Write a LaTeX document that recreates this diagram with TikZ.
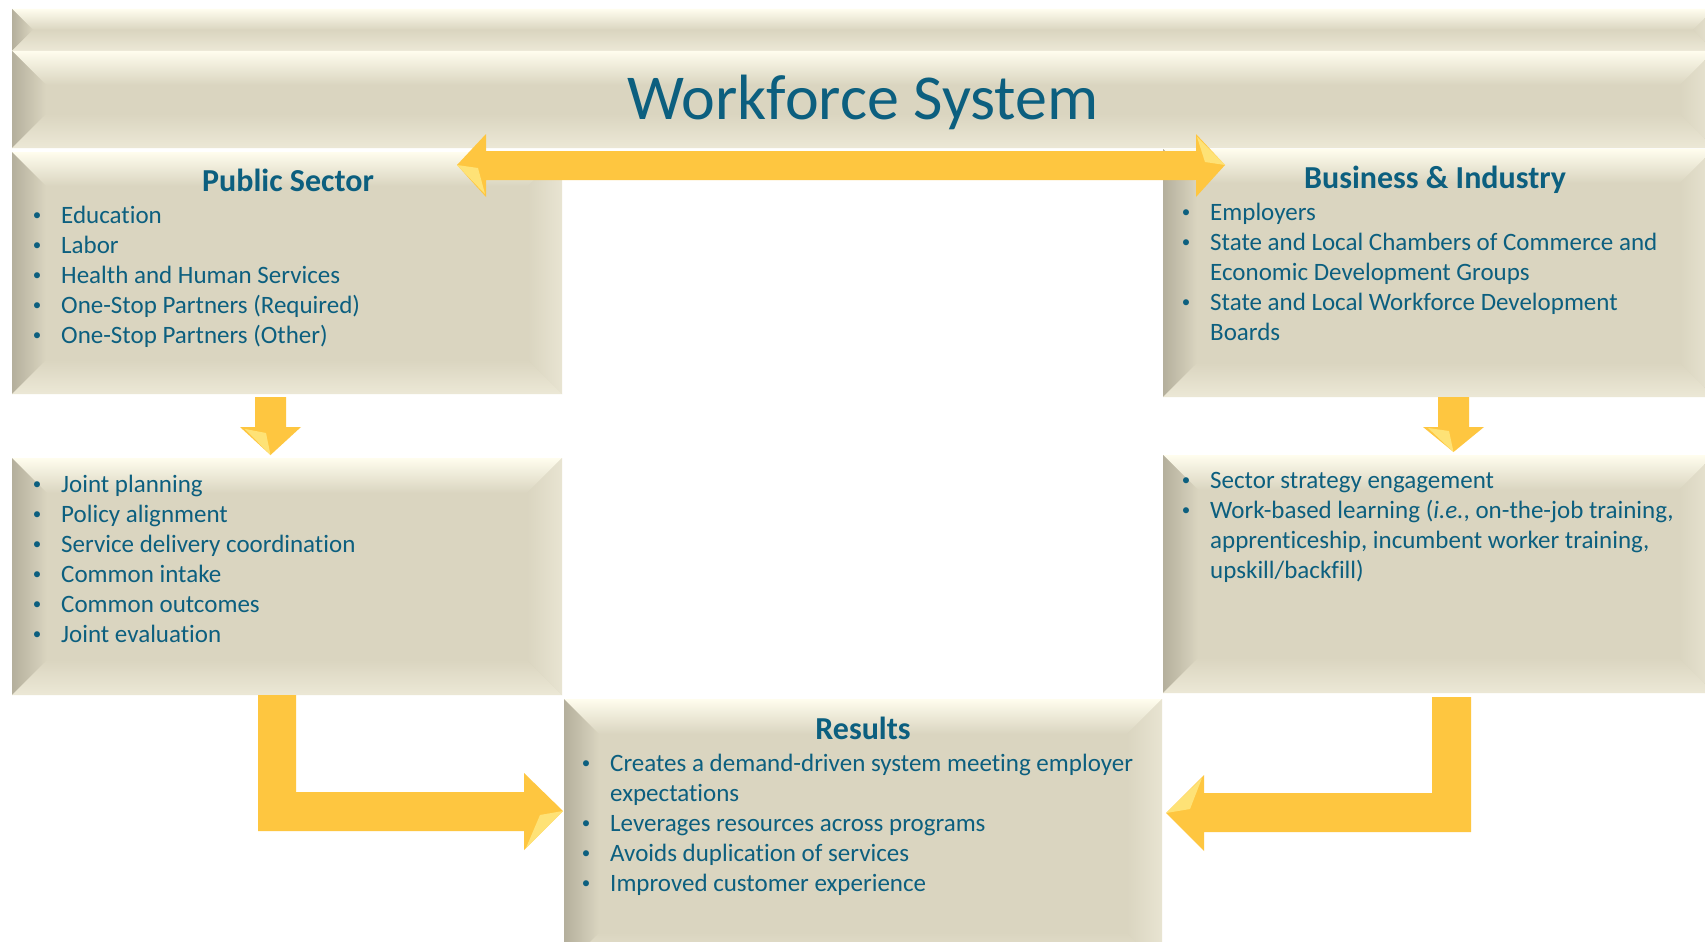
\documentclass[tikz,border=0pt]{standalone}
\usepackage{fontspec}
\setmainfont[Ligatures=NoCommon]{Carlito}
\definecolor{boxc}{RGB}{218,213,192}
\definecolor{bevtop}{RGB}{255,253,238}
\definecolor{bevleft}{RGB}{180,175,156}
\definecolor{bevright}{RGB}{232,228,210}
\definecolor{bevbot}{RGB}{236,232,214}
\definecolor{txt}{RGB}{12,95,127}
\definecolor{arrowc}{RGB}{254,198,64}
\definecolor{arrowhi}{RGB}{255,232,128}
\newcommand\bul{\makebox[30pt][l]{\makebox[12pt]{\raisebox{2.5pt}{\fontsize{17}{17}\selectfont •}}}}
\newcommand\bevelbox[6]{%
 \node[boxnode, minimum width={(#4-#2)*1pt}, minimum height={(#5-#3)*1pt}] (#1) at ({(#2+#4)/2},{(#3+#5)/2}) {};
 \shade[top color=bevtop, bottom color=boxc] (#2,#3) -- (#4,#3) -- ({#4-#6},{#3+#6}) -- ({#2+#6},{#3+#6}) -- cycle;
 \shade[left color=bevleft, right color=boxc] (#2,#3) -- ({#2+#6},{#3+#6}) -- ({#2+#6},{#5-#6}) -- (#2,#5) -- cycle;
 \shade[left color=boxc, right color=bevright] (#4,#3) -- ({#4-#6},{#3+#6}) -- ({#4-#6},{#5-#6}) -- (#4,#5) -- cycle;
 \shade[top color=boxc, bottom color=bevbot] (#2,#5) -- ({#2+#6},{#5-#6}) -- ({#4-#6},{#5-#6}) -- (#4,#5) -- cycle;
}
\tikzset{
 boxnode/.style={fill=boxc, draw=none, inner sep=0pt, outer sep=0pt},
 body/.style={text=txt, inner sep=0pt, anchor=base west, font=\fontsize{25}{30}\selectfont},
 head/.style={text=txt, inner sep=0pt, anchor=base, font=\fontsize{32}{38}\selectfont\bfseries},
 blockarrow/.style={fill=arrowc, draw=none},
 facet/.style={fill=arrowhi, draw=none, opacity=0.85},
}
\begin{document}
\begin{tikzpicture}[x=1pt, y=-1pt]
\useasboundingbox (0,0) rectangle (1705,942);
\clip (0,0) rectangle (1705,942);
\fill[white] (0,0) rectangle (1705,942);

% boxes
\bevelbox{topband}{12}{9}{1714}{51}{21}
\bevelbox{banner}{12}{51}{1714}{148}{34}
\bevelbox{ps}{12}{152}{562}{394}{34}
\bevelbox{bi}{1163}{149}{1714}{397}{34}
\bevelbox{psc}{12}{458}{562}{695}{35}
\bevelbox{bic}{1163}{455}{1714}{693}{35}
\bevelbox{res}{564}{699}{1162}{968}{35}

% texts
\node[text=txt, inner sep=0pt, anchor=base, font=\fontsize{64}{76}\selectfont] (title) at (863,119) {Workforce System};

\node[head] (pshead) at (288,191) {Public Sector};
\node[body] (pslist) at (31,223) {\begin{tabular}[t]{@{}l@{}l@{}}
\bul & Education\\
\bul & Labor\\
\bul & Health and Human Services\\
\bul & One-Stop Partners (Required)\\
\bul & One-Stop Partners (Other)
\end{tabular}};

\node[head] (bihead) at (1435,188) {Business \& Industry};
\node[body] (bilist) at (1180,220) {\begin{tabular}[t]{@{}l@{}l@{}}
\bul & Employers\\
\bul & State and Local Chambers of Commerce and\\
 & Economic Development Groups\\
\bul & State and Local Workforce Development\\
 & Boards
\end{tabular}};

\node[body] (psclist) at (31,492) {\begin{tabular}[t]{@{}l@{}l@{}}
\bul & Joint planning\\
\bul & Policy alignment\\
\bul & Service delivery coordination\\
\bul & Common intake\\
\bul & Common outcomes\\
\bul & Joint evaluation
\end{tabular}};

\node[body] (biclist) at (1180,488) {\begin{tabular}[t]{@{}l@{}l@{}}
\bul & Sector strategy engagement\\
\bul & Work-based learning (\textit{i.e.}, on-the-job training,\\
 & apprenticeship, incumbent worker training,\\
 & upskill/backfill)
\end{tabular}};

\node[head] (reshead) at (863,739) {Results};
\node[body] (reslist) at (580,771) {\begin{tabular}[t]{@{}l@{}l@{}}
\bul & Creates a demand-driven system meeting employer\\
 & expectations\\
\bul & Leverages resources across programs\\
\bul & Avoids duplication of services\\
\bul & Improved customer experience
\end{tabular}};

% arrows
\fill[blockarrow] (457,165) -- (486,134) -- (486,151) -- (1196,151) -- (1196,134) -- (1225,165) -- (1196,197) -- (1196,180) -- (486,180) -- (486,197) -- cycle;
\fill[facet] (457,165) -- (478,168) -- (485,194) -- cycle;
\fill[facet] (1225,165) -- (1205,162) -- (1197,137) -- cycle;

\fill[blockarrow] (255,397) -- (286,397) -- (286,427) -- (301,427) -- (270.5,455) -- (240,427) -- (255,427) -- cycle;
\fill[facet] (270.5,455) -- (266,433) -- (245,429) -- cycle;

\fill[blockarrow] (1438,397) -- (1469,397) -- (1469,427) -- (1484,427) -- (1453.5,452) -- (1423,427) -- (1438,427) -- cycle;
\fill[facet] (1453.5,452) -- (1449,431) -- (1428,428) -- cycle;

\fill[blockarrow] (258,695) -- (296,695) -- (296,792) -- (524,792) -- (524,773) -- (563,811) -- (524,850) -- (524,831) -- (258,831) -- cycle;
\fill[facet] (563,811) -- (540,815) -- (526,848) -- cycle;

\fill[blockarrow] (1471,697) -- (1432,697) -- (1432,793) -- (1204,793) -- (1204,775) -- (1166,813) -- (1204,851) -- (1204,832) -- (1471,832) -- cycle;
\fill[facet] (1166,813) -- (1190,809) -- (1202,778) -- cycle;
\end{tikzpicture}
\end{document}
